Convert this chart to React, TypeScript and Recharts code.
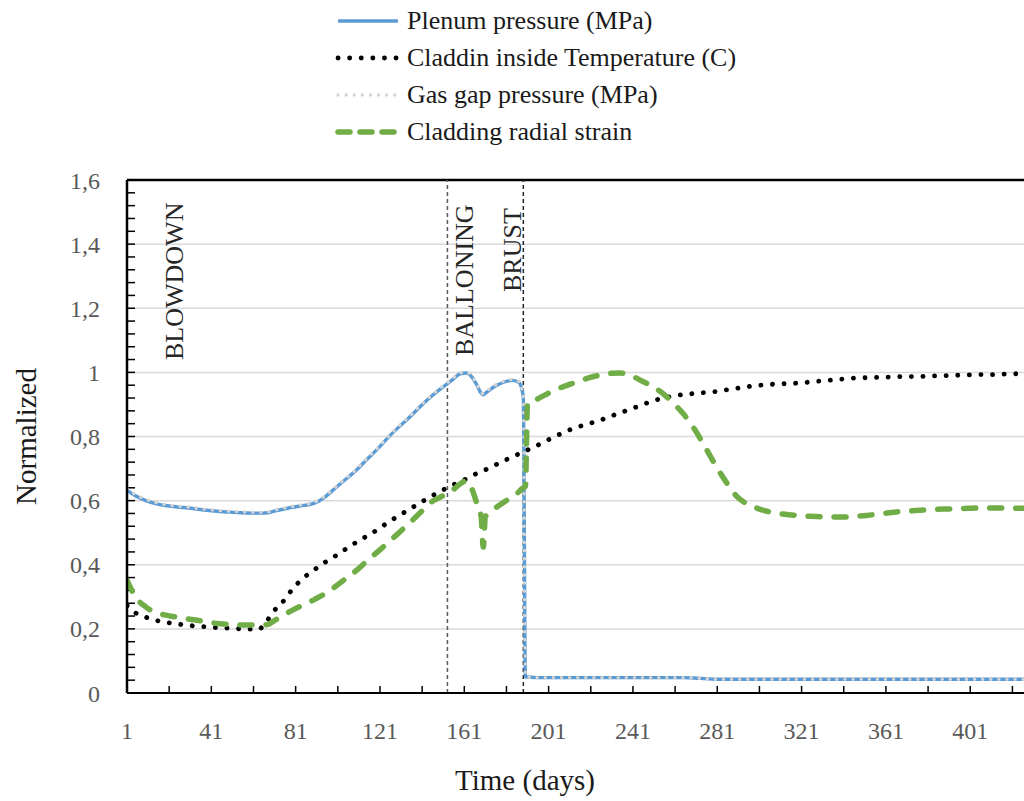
import React from 'react';
import { LineChart, Line, XAxis, YAxis, CartesianGrid, ReferenceLine, Legend } from 'recharts';

const FONT = '"Liberation Serif", "Times New Roman", serif';

// time axis (days)
const days = [
  1, 5, 10, 15, 20, 25, 30, 35, 40, 45,
  50, 55, 60, 63, 65, 68, 70, 75, 80, 85,
  90, 95, 100, 105, 110, 115, 120, 125, 130, 135,
  140, 145, 150, 155, 159, 162, 165, 167, 169, 170,
  171, 173, 176, 180, 184, 187, 188, 189, 190, 191,
  195, 200, 205, 210, 215, 220, 225, 230, 235, 240,
  245, 250, 255, 260, 265, 270, 275, 280, 285, 290,
  295, 300, 305, 310, 315, 320, 325, 330, 335, 340,
  345, 350, 355, 360, 365, 370, 375, 380, 385, 390,
  395, 400, 405, 410, 415, 420, 425, 430,
];

const plenumPressure = [
  0.633, 0.615, 0.600, 0.590, 0.584, 0.580, 0.577, 0.573, 0.569, 0.566,
  0.564, 0.562, 0.561, 0.561, 0.561, 0.562, 0.566, 0.573, 0.580, 0.585,
  0.592, 0.612, 0.640, 0.668, 0.696, 0.730, 0.762, 0.798, 0.830, 0.860,
  0.893, 0.923, 0.950, 0.975, 0.995, 0.998, 0.982, 0.960, 0.935, 0.930,
  0.935, 0.945, 0.958, 0.970, 0.975, 0.968, 0.955, 0.920, 0.050, 0.050,
  0.048, 0.048, 0.048, 0.048, 0.048, 0.048, 0.048, 0.048, 0.048, 0.048,
  0.048, 0.048, 0.048, 0.048, 0.048, 0.047, 0.045, 0.043, 0.043, 0.043,
  0.043, 0.043, 0.043, 0.043, 0.043, 0.043, 0.043, 0.043, 0.043, 0.043,
  0.043, 0.043, 0.043, 0.043, 0.043, 0.043, 0.043, 0.043, 0.043, 0.043,
  0.043, 0.043, 0.043, 0.043, 0.043, 0.043, 0.043, 0.043,
];

const claddingTemperature = [
  0.272, 0.250, 0.236, 0.226, 0.220, 0.215, 0.211, 0.208, 0.206, 0.203,
  0.202, 0.200, 0.199, 0.197, 0.205, 0.230, 0.250, 0.285, 0.328, 0.360,
  0.385, 0.408, 0.428, 0.450, 0.471, 0.490, 0.510, 0.533, 0.553, 0.573,
  0.593, 0.612, 0.630, 0.647, 0.659, 0.668, 0.678, 0.685, 0.690, 0.693,
  0.696, 0.702, 0.712, 0.725, 0.737, 0.746, 0.749, 0.752, 0.755, 0.758,
  0.770, 0.787, 0.803, 0.818, 0.830, 0.840, 0.850, 0.862, 0.874, 0.886,
  0.898, 0.910, 0.919, 0.926, 0.931, 0.934, 0.937, 0.940, 0.945, 0.950,
  0.955, 0.959, 0.962, 0.964, 0.965, 0.967, 0.970, 0.973, 0.976, 0.979,
  0.982, 0.983, 0.984, 0.985, 0.986, 0.987, 0.987, 0.988, 0.989, 0.990,
  0.991, 0.992, 0.993, 0.993, 0.994, 0.995, 0.996, 0.996,
];

const gasGapPressure = [
  0.637, 0.619, 0.604, 0.594, 0.587, 0.583, 0.580, 0.576, 0.572, 0.569,
  0.567, 0.565, 0.564, 0.564, 0.564, 0.565, 0.569, 0.576, 0.583, 0.588,
  0.595, 0.615, 0.643, 0.671, 0.699, 0.733, 0.765, 0.801, 0.833, 0.863,
  0.896, 0.926, 0.953, 0.978, 0.998, 1.000, 0.985, 0.963, 0.938, 0.933,
  0.938, 0.948, 0.961, 0.973, 0.978, 0.970, 0.957, 0.922, 0.052, 0.050,
  0.048, 0.048, 0.048, 0.048, 0.048, 0.048, 0.048, 0.048, 0.048, 0.048,
  0.048, 0.048, 0.048, 0.048, 0.048, 0.047, 0.045, 0.043, 0.043, 0.043,
  0.043, 0.043, 0.043, 0.043, 0.043, 0.043, 0.043, 0.043, 0.043, 0.043,
  0.043, 0.043, 0.043, 0.043, 0.043, 0.043, 0.043, 0.043, 0.043, 0.043,
  0.043, 0.043, 0.043, 0.043, 0.043, 0.043, 0.043, 0.043,
];

const radialStrain = [
  0.352, 0.300, 0.268, 0.250, 0.242, 0.236, 0.231, 0.226, 0.220, 0.216,
  0.214, 0.212, 0.212, 0.212, 0.212, 0.214, 0.222, 0.242, 0.260, 0.276,
  0.292, 0.310, 0.333, 0.358, 0.383, 0.413, 0.441, 0.470, 0.500, 0.530,
  0.562, 0.594, 0.612, 0.630, 0.652, 0.662, 0.630, 0.590, 0.550, 0.455,
  0.550, 0.562, 0.578, 0.596, 0.613, 0.628, 0.635, 0.640, 0.645, 0.905,
  0.915, 0.932, 0.948, 0.960, 0.972, 0.983, 0.991, 0.997, 0.998, 0.990,
  0.974, 0.957, 0.935, 0.905, 0.870, 0.825, 0.770, 0.712, 0.660, 0.615,
  0.590, 0.576, 0.566, 0.560, 0.556, 0.553, 0.551, 0.550, 0.549, 0.549,
  0.550, 0.553, 0.556, 0.560, 0.564, 0.567, 0.569, 0.571, 0.573, 0.574,
  0.575, 0.576, 0.577, 0.577, 0.577, 0.577, 0.576, 0.576,
];

const xLabelTicks = [1, 41, 81, 121, 161, 201, 241, 281, 321, 361, 401];
const xMinorTicks = [21, 41, 61, 81, 101, 121, 141, 161, 181, 201, 221, 241, 261, 281, 301, 321, 341, 361, 381, 401, 421];
const yLabelTicks = [0, 0.2, 0.4, 0.6, 0.8, 1, 1.2, 1.4, 1.6];
const yMinorTicks = [
  0.04, 0.08, 0.12, 0.16, 0.2, 0.24, 0.28, 0.32, 0.36,
  0.4, 0.44, 0.48, 0.52, 0.56, 0.6, 0.64, 0.68, 0.72, 0.76,
  0.8, 0.84, 0.88, 0.92, 0.96, 1, 1.04, 1.08, 1.12, 1.16,
  1.2, 1.24, 1.28, 1.32, 1.36, 1.4, 1.44, 1.48, 1.52, 1.56,
];

// phase markers (day)
const blowdownDay = 24;
const ballooningDay = 153;
const burstDay = 189;

const data = days.map((day, i) => ({
  day,
  plenum: plenumPressure[i],
  temp: claddingTemperature[i],
  gas: gasGapPressure[i],
  strain: radialStrain[i],
}));

const X_MIN = 1;
const X_MAX = 426.5;
// inward tick mark lengths, in axis units (~8px and ~7px)
const Y_TICK_LEN = 3.8;
const X_TICK_LEN = 0.022;

const series = [
  { key: 'plenum', name: 'Plenum pressure (MPa)', color: '#5b9bd5', width: 3.4, dash: undefined, cap: 'butt' },
  { key: 'temp', name: 'Claddin inside Temperature (C)', color: '#000000', width: 4.8, dash: '0.1 11.5', cap: 'round' },
  { key: 'gas', name: 'Gas gap pressure (MPa)', color: '#d4d4d4', width: 3.4, dash: '0.1 8', cap: 'round' },
  { key: 'strain', name: 'Cladding radial strain', color: '#70ad47', width: 5.5, dash: '12 14', cap: 'round' },
];

const renderLegend = () => (
  <div style={{ height: 150, paddingLeft: 335, paddingTop: 2, boxSizing: 'border-box', fontFamily: FONT, fontSize: 26, color: '#1a1a1a' }}>
    {series.map((s) => (
      <div key={s.key} style={{ display: 'flex', alignItems: 'center', height: 37 }}>
        <svg width={66} height={12}>
          <line x1={3} y1={6} x2={63} y2={6} stroke={s.color} strokeWidth={s.width} strokeDasharray={s.key === 'strain' ? '12 10' : s.dash} strokeLinecap={s.cap as any} />
        </svg>
        <span style={{ marginLeft: 6, whiteSpace: 'nowrap' }}>{s.name}</span>
      </div>
    ))}
  </div>
);

const phaseLabel = (text: string, dx: number, bottom: number) => (props: any) => {
  const { viewBox } = props;
  const x = viewBox.x + dx;
  const y = viewBox.y + bottom;
  return (
    <text x={x} y={y} dy="0.35em" transform={`rotate(-90 ${x} ${y})`} fontFamily={FONT} fontSize={26} fill="#262626">
      {text}
    </text>
  );
};

const yTitle = (props: any) => {
  const { viewBox } = props;
  const x = viewBox.x + 26;
  const y = viewBox.y + viewBox.height / 2;
  return (
    <text x={x} y={y} dy="0.35em" transform={`rotate(-90 ${x} ${y})`} textAnchor="middle" fontFamily={FONT} fontSize={29} fill="#1a1a1a">
      Normalized
    </text>
  );
};

const xTitle = (props: any) => {
  const { viewBox } = props;
  return (
    <text x={viewBox.x + 398} y={viewBox.y + 87} dy="0.35em" textAnchor="middle" fontFamily={FONT} fontSize={29} fill="#1a1a1a">
      Time (days)
    </text>
  );
};

const tickStyle = { fontFamily: FONT, fontSize: 24, fill: '#595959' };

export default function App() {
  return (
    <div style={{ position: 'absolute', left: 0, top: 0, width: 1024, height: 801, background: '#fff' }}>
      <LineChart width={1024} height={801} data={data} margin={{ top: 30, right: 0, bottom: 0, left: 0 }}>
        <CartesianGrid vertical={false} stroke="#d9d9d9" strokeWidth={1.5} />
        <XAxis
          dataKey="day"
          type="number"
          domain={[X_MIN, X_MAX]}
          allowDataOverflow
          ticks={xLabelTicks}
          interval={0}
          height={108}
          tickLine={false}
          tickSize={0}
          tickMargin={29}
          tick={tickStyle}
          axisLine={{ stroke: '#000', strokeWidth: 2 }}
          label={xTitle}
        />
        <YAxis
          type="number"
          domain={[0, 1.6]}
          allowDataOverflow
          ticks={yLabelTicks}
          interval={0}
          width={127}
          tickLine={false}
          tickSize={0}
          tickMargin={27}
          tick={tickStyle}
          tickFormatter={(v: number) => String(v).replace('.', ',')}
          axisLine={{ stroke: '#000', strokeWidth: 2.5 }}
          label={yTitle}
        />
        <Legend verticalAlign="top" align="left" content={renderLegend} wrapperStyle={{ top: 0, left: 0, width: 1024 }} />
        {yMinorTicks.map((v) => (
          <ReferenceLine key={`yt${v}`} segment={[{ x: X_MIN, y: v }, { x: X_MIN + Y_TICK_LEN, y: v }]} stroke="#000" strokeWidth={1.5} />
        ))}
        {xMinorTicks.map((d) => (
          <ReferenceLine key={`xt${d}`} segment={[{ x: d, y: 0 }, { x: d, y: X_TICK_LEN }]} stroke="#000" strokeWidth={1.5} />
        ))}
        <ReferenceLine y={1.6} stroke="#000" strokeWidth={2.5} />
        <ReferenceLine x={blowdownDay} stroke="none" label={phaseLabel('BLOWDOWN', -1.5, 180)} />
        <ReferenceLine x={ballooningDay} stroke="#595959" strokeWidth={1.5} strokeDasharray="4 3" label={phaseLabel('BALLONING', 16, 176)} />
        <ReferenceLine x={burstDay} stroke="#262626" strokeWidth={1.5} strokeDasharray="4 3" label={phaseLabel('BRUST', -11, 112)} />
        {series.map((s) => (
          <Line
            key={s.key}
            type="monotone"
            dataKey={s.key}
            name={s.name}
            stroke={s.color}
            strokeWidth={s.width}
            strokeDasharray={s.dash}
            strokeLinecap={s.cap as any}
            dot={false}
            activeDot={false}
            isAnimationActive={false}
          />
        ))}
      </LineChart>
    </div>
  );
}
